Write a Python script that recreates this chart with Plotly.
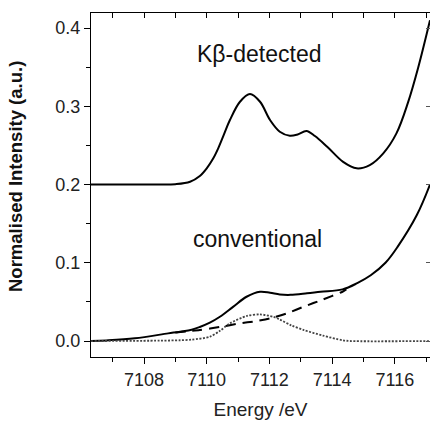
import plotly.graph_objects as go

# Kβ-detected spectrum
kb_energy = [7106.31, 7108.5, 7109.0, 7109.47, 7109.78, 7110.0, 7110.21, 7110.37, 7110.55, 7110.74,
             7111.06, 7111.38, 7111.7, 7112.02, 7112.33, 7112.65, 7112.9, 7113.18, 7113.45,
             7113.85, 7114.35, 7114.78, 7115.2, 7115.63, 7116.05, 7116.42, 7116.74, 7117.12]
kb_intensity = [0.200, 0.200, 0.2005, 0.2036, 0.2109, 0.2207, 0.2335, 0.2465, 0.264, 0.2824,
                0.3058, 0.3157, 0.3058, 0.2824, 0.2675, 0.2624, 0.264, 0.2684, 0.262,
                0.248, 0.229, 0.2207, 0.2249, 0.2399, 0.2654, 0.305, 0.349, 0.41]

# Conventional spectrum
conv_energy = [7106.31, 7106.8, 7107.71, 7108.77, 7109.15, 7109.52, 7109.78, 7110.1, 7110.42,
               7110.85, 7111.27, 7111.7, 7112.02, 7112.33, 7112.67, 7113.2, 7113.63, 7114.33,
               7114.8, 7115.23, 7115.7, 7116.08, 7116.7, 7117.12]
conv_intensity = [0.0, 0.0008, 0.0035, 0.0098, 0.012, 0.0145, 0.018, 0.0235, 0.031,
                  0.044, 0.0566, 0.063, 0.0617, 0.0595, 0.059, 0.061, 0.063, 0.066,
                  0.074, 0.084, 0.100, 0.120, 0.161, 0.200]

# Background (dashed)
bg_energy = [7109.0, 7109.4, 7109.78, 7110.42, 7111.06, 7111.54, 7112.02, 7112.6, 7113.1,
             7113.7, 7114.33, 7114.45]
bg_intensity = [0.011, 0.0125, 0.014, 0.018, 0.0226, 0.0252, 0.029, 0.036, 0.044,
                0.053, 0.063, 0.066]

# Pre-edge peak (dotted)
pe_energy = [7106.31, 7108.5, 7109.15, 7109.52, 7110.1, 7110.42, 7110.74, 7111.27, 7111.7,
             7112.12, 7112.33, 7112.7, 7113.1, 7113.7, 7114.33, 7114.6, 7117.12]
pe_intensity = [0.0, 0.0005, 0.001, 0.0018, 0.0055, 0.013, 0.0226, 0.032, 0.034,
                0.031, 0.0275, 0.020, 0.014, 0.007, 0.001, 0.0, 0.0]

x_range = [7106.31, 7117.12]
y_range = [-0.0204, 0.4192]
x_ticks = [7108, 7110, 7112, 7114, 7116]
y_ticks = [0.0, 0.1, 0.2, 0.3, 0.4]

FONT = "Liberation Sans, Arial, sans-serif"
fig = go.Figure()
fig.add_trace(go.Scatter(x=kb_energy, y=kb_intensity, mode="lines",
                         line=dict(color="black", width=2, shape="spline", smoothing=1.0)))
fig.add_trace(go.Scatter(x=conv_energy, y=conv_intensity, mode="lines",
                         line=dict(color="black", width=2, shape="spline", smoothing=1.0)))
fig.add_trace(go.Scatter(x=bg_energy, y=bg_intensity, mode="lines",
                         line=dict(color="black", width=2, dash="10px,7px", shape="spline", smoothing=0.6)))
fig.add_trace(go.Scatter(x=pe_energy, y=pe_intensity, mode="lines",
                         line=dict(color="#444444", width=1.8, dash="2px,1.5px", shape="spline", smoothing=0.8)))
# invisible trace for mirror axes
fig.add_trace(go.Scatter(x=x_range, y=y_range, xaxis="x2", yaxis="y2", mode="lines",
                         line=dict(width=0), hoverinfo="skip", showlegend=False, opacity=0))

fig.update_layout(
    width=430, height=422,
    margin=dict(l=91, r=0, t=13, b=65),
    paper_bgcolor="white", plot_bgcolor="white",
    showlegend=False,
    font=dict(family=FONT, color="#222222", size=18),
    xaxis=dict(range=x_range, tickvals=x_ticks, ticks="outside", ticklen=6, tickwidth=1,
               tickcolor="black", showline=True, linecolor="black", linewidth=1,
               showgrid=False, zeroline=False, tickfont=dict(size=18),
               minor=dict(dtick=1, tick0=7107, ticks="outside", ticklen=4, tickcolor="black"),
               title=dict(text="Energy /eV", font=dict(size=19), standoff=14)),
    yaxis=dict(range=y_range, tickvals=y_ticks, tickformat=".1f", ticks="outside", ticklen=6,
               tickwidth=1, tickcolor="black", showline=True, linecolor="black", linewidth=1,
               showgrid=False, zeroline=False, tickfont=dict(size=18),
               minor=dict(dtick=0.05, tick0=0, ticks="outside", ticklen=4, tickcolor="black")),
    xaxis2=dict(range=x_range, overlaying="x", side="top", anchor="y", dtick=1, tick0=7107,
                ticks="inside", ticklen=5, tickcolor="black", showticklabels=False,
                showline=True, linecolor="black", linewidth=1, showgrid=False, zeroline=False),
    yaxis2=dict(range=y_range, overlaying="y", side="right", anchor="x", dtick=0.1, tick0=0,
                ticks="inside", ticklen=4, tickcolor="#555555", showticklabels=False,
                showline=False, showgrid=False, zeroline=False),
)

fig.add_annotation(text="<b>Normalised Intensity (a.u.)</b>", xref="paper", yref="paper",
                   x=(15 - 91) / 339, y=(357 - 177) / 344, textangle=-90, showarrow=False,
                   xanchor="center", yanchor="middle", font=dict(size=18.5, color="#111111"))
fig.add_annotation(text="Kβ-detected", x=7111.68, y=0.3668, showarrow=False,
                   xanchor="center", yanchor="middle", font=dict(size=23, color="#111111"))
fig.add_annotation(text="conventional", x=7111.63, y=0.131, showarrow=False,
                   xanchor="center", yanchor="middle", font=dict(size=23, color="#111111"))

fig.write_html("out.html", config={"displayModeBar": False},
               post_script="document.body.style.margin='0';document.body.style.overflow='hidden';")
